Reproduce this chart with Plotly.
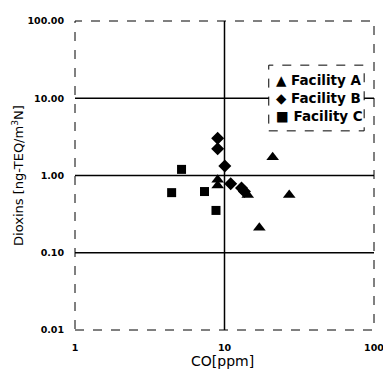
import plotly.graph_objects as go

# Data (CO ppm, Dioxins ng-TEQ/m3N)
facA_co = [21.0, 27.1, 17.1, 14.3, 9.0, 9.0]
facA_dx = [1.72, 0.56, 0.21, 0.56, 0.88, 0.74]
facB_co = [9.0, 9.0, 10.05, 11.0, 13.0, 13.6]
facB_dx = [3.03, 2.22, 1.33, 0.78, 0.69, 0.62]
facC_co = [5.16, 4.43, 7.35, 8.77]
facC_dx = [1.2, 0.60, 0.62, 0.353]

x_ticks = [1, 10, 100]
x_ticktext = ["1", "10", "100"]
y_ticks = [0.01, 0.1, 1, 10, 100]
y_ticktext = ["0.01", "0.10", "1.00", "10.00", "100.00"]
x_grid = [10]
y_grid = [0.1, 1, 10]

legend_labels = ["▲ Facility A", "◆ Facility B", "■ Facility C"]

fig = go.Figure()
fig.add_trace(go.Scatter(x=facA_co, y=facA_dx, mode="markers", name="Facility A",
                         marker=dict(symbol="triangle-up", size=11, color="black")))
fig.add_trace(go.Scatter(x=facB_co, y=facB_dx, mode="markers", name="Facility B",
                         marker=dict(symbol="diamond", size=10, color="black")))
fig.add_trace(go.Scatter(x=facC_co, y=facC_dx, mode="markers", name="Facility C",
                         marker=dict(symbol="square", size=9, color="black")))

shapes = []
for yv in y_grid:
    shapes.append(dict(type="line", xref="paper", yref="y", x0=0, x1=1, y0=yv, y1=yv,
                       line=dict(color="black", width=1.5), layer="below"))
for xv in x_grid:
    shapes.append(dict(type="line", xref="x", yref="paper", x0=xv, x1=xv, y0=0, y1=1,
                       line=dict(color="black", width=1.5), layer="below"))
# plot frame
shapes.append(dict(type="rect", xref="paper", yref="paper", x0=0, x1=1, y0=0, y1=1,
                   line=dict(color="black", width=1, dash="dash")))
# legend box
shapes.append(dict(type="rect", xref="paper", yref="paper",
                   x0=(272 - 75) / 304, x1=(369 - 75) / 304,
                   y0=(330 - 127) / 315, y1=(330 - 60) / 315,
                   line=dict(color="black", width=1, dash="dash"), fillcolor="white"))

annotations = []
for i, lab in enumerate(legend_labels):
    ypx = 75 + i * 18.3
    annotations.append(dict(text=lab, xref="paper", yref="paper",
                            x=(277 - 75) / 304, y=(330 - ypx) / 315,
                            xanchor="left", yanchor="middle", showarrow=False,
                            font=dict(family="DejaVu Sans", size=13.5, color="black", weight="bold")))
annotations.append(dict(text="CO[ppm]", xref="paper", yref="paper",
                        x=(225 - 75) / 304, y=(330 - 362) / 315, xanchor="center", yanchor="middle",
                        showarrow=False, font=dict(family="DejaVu Sans", size=14, color="black")))
annotations.append(dict(text="Dioxins [ng-TEQ/m<sup>3</sup>N]", xref="paper", yref="paper",
                        x=(17 - 75) / 304, y=(330 - 172) / 315, xanchor="center", yanchor="middle",
                        textangle=-90, showarrow=False,
                        font=dict(family="DejaVu Sans", size=13, color="black")))

# page body has an 8px margin; figure is placed at (8, 8)
fig.update_layout(
    width=383, height=366,
    margin=dict(l=67, r=12, t=7, b=44),
    paper_bgcolor="white", plot_bgcolor="white",
    showlegend=False,
    shapes=shapes, annotations=annotations,
    xaxis=dict(type="log", range=[0, 2], tickvals=x_ticks, ticktext=x_ticktext,
               showgrid=False, zeroline=False, showline=False,
               ticks="outside", ticklen=9, tickcolor="rgba(0,0,0,0)",
               tickfont=dict(family="DejaVu Sans", size=9.5, color="black", weight="bold")),
    yaxis=dict(type="log", range=[-2, 2], tickvals=y_ticks, ticktext=y_ticktext,
               showgrid=False, zeroline=False, showline=False,
               ticks="outside", ticklen=8, tickcolor="rgba(0,0,0,0)",
               tickfont=dict(family="DejaVu Sans", size=9.5, color="black", weight="bold")),
)

fig.write_html("out.html")
